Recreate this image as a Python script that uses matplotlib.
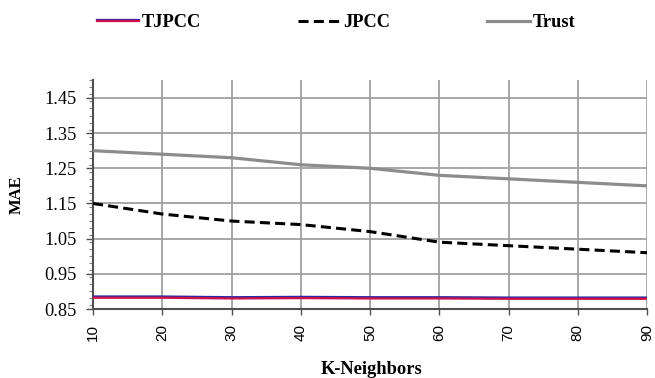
import matplotlib
matplotlib.use("Agg")
import matplotlib.pyplot as plt
import matplotlib.patheffects as pe
from matplotlib.ticker import MultipleLocator, FixedLocator

plt.rcParams['font.family'] = ['Liberation Serif', 'DejaVu Serif']

k_neighbors = [10, 20, 30, 40, 50, 60, 70, 80, 90]
tjpcc = [0.882, 0.882, 0.880, 0.881, 0.880, 0.880, 0.879, 0.879, 0.879]
jpcc = [1.15, 1.12, 1.10, 1.09, 1.07, 1.04, 1.03, 1.02, 1.01]
trust = [1.30, 1.29, 1.28, 1.26, 1.25, 1.23, 1.22, 1.21, 1.20]
y_ticks = [0.85, 0.95, 1.05, 1.15, 1.25, 1.35, 1.45]

fig = plt.figure(figsize=(6.55, 3.78), dpi=100)
ax = fig.add_axes([0.142, 0.1825, 0.846, 0.605])

l1, = ax.plot(k_neighbors, tjpcc, color='#D0104C', lw=1.6, label='TJPCC', zorder=4,
              path_effects=[pe.SimpleLineShadow(offset=(0, 0.9), shadow_color='#2A2AA0', alpha=1.0),
                            pe.Normal()])
l2, = ax.plot(k_neighbors, jpcc, color='black', lw=2.2, ls=(0, (3.3, 1.7)), label='JPCC', zorder=3)
l3, = ax.plot(k_neighbors, trust, color='#8C8C8C', lw=2.3, label='Trust', zorder=3)

ax.set_xlim(10, 90)
ax.set_ylim(0.85, 1.5)
ax.yaxis.set_major_locator(FixedLocator(y_ticks))
ax.yaxis.set_minor_locator(MultipleLocator(0.02))
ax.xaxis.set_major_locator(FixedLocator(k_neighbors))
ax.set_yticklabels([f"{v:.2f}" for v in y_ticks], fontsize=13.2)
ax.set_xticklabels([str(v) for v in k_neighbors], rotation=90, fontsize=11,
                   family=['Liberation Sans', 'DejaVu Sans'])

ax.grid(True, which='major', color='#A0A0A0', lw=1.3)
for s in ['top', 'right']:
    ax.spines[s].set_visible(False)
for s in ['left', 'bottom']:
    ax.spines[s].set_color('#505050')
    ax.spines[s].set_linewidth(1.5)
ax.tick_params(axis='y', which='major', length=5, color='#505050', width=1, pad=7)
ax.tick_params(axis='y', which='minor', length=3, color='#808080', width=0.8)
ax.tick_params(axis='x', which='major', length=4, color='#505050', width=1, pad=7)

ax.set_ylabel('MAE', fontsize=12, fontweight='bold')
ax.yaxis.set_label_coords(-0.123, 0.5)
ax.set_xlabel('K-Neighbors', fontsize=13.3, fontweight='bold')
ax.xaxis.set_label_coords(0.502, -0.228)

fig.legend(handles=[l1, l2, l3], loc='center', bbox_to_anchor=(0.513, 0.94), ncol=3,
           frameon=False, handlelength=2.3, handletextpad=0.15, columnspacing=5.3,
           prop={'weight': 'bold', 'size': 13.2})

fig.savefig('out.png', dpi=100)
